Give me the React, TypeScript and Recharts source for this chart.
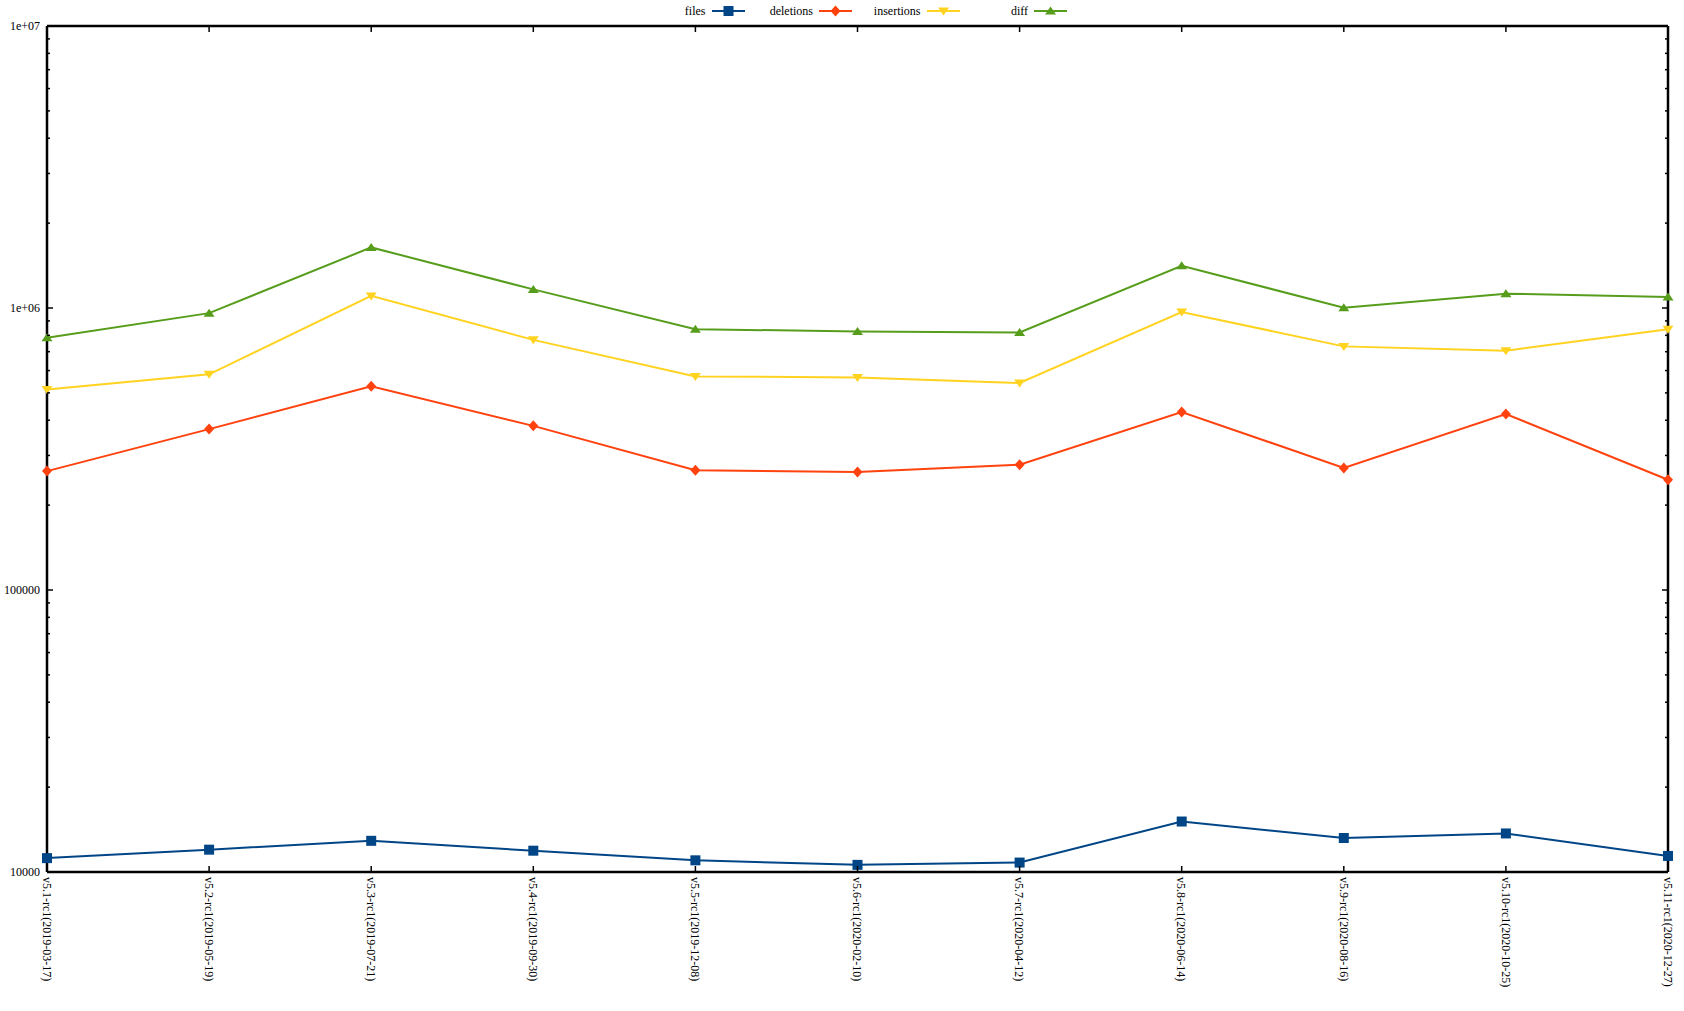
import React from 'react';
import { LineChart, Line, XAxis, YAxis } from 'recharts';

const labels = [
    'v5.1-rc1(2019-03-17)', 'v5.2-rc1(2019-05-19)', 'v5.3-rc1(2019-07-21)', 'v5.4-rc1(2019-09-30)',
    'v5.5-rc1(2019-12-08)', 'v5.6-rc1(2020-02-10)', 'v5.7-rc1(2020-04-12)', 'v5.8-rc1(2020-06-14)',
    'v5.9-rc1(2020-08-16)', 'v5.10-rc1(2020-10-25)', 'v5.11-rc1(2020-12-27)',
];
const files = [11200, 12000, 12900, 11900, 11000, 10600, 10800, 15100, 13200, 13700, 11400];
const deletions = [264000, 372000, 528000, 382000, 266000, 262000, 278000, 428000, 271000, 421000, 246000];
const insertions = [514000, 582000, 1104000, 771000, 572000, 567000, 542000, 968000, 731000, 706000, 841000];
const diff = [784000, 959000, 1640000, 1164000, 841000, 826000, 819000, 1412000, 1002000, 1124000, 1094000];

const majorTicks = [10000, 100000, 1000000, 10000000];
const yTicks: number[] = [];
for (let d = 10000; d < 10000000; d *= 10) {
    for (let m = 1; m < 10; m++) yTicks.push(d * m);
}
yTicks.push(10000000);

const data = labels.map((label, i) => ({
    label,
    files: files[i],
    deletions: deletions[i],
    insertions: insertions[i],
    diff: diff[i],
}));

const FONT = '"Liberation Serif", "Times New Roman", serif';
const COLORS = { files: '#004586', deletions: '#ff420e', insertions: '#ffd320', diff: '#579d1c' };

const yLabel = (v: number) => (v >= 1000000 ? `1e+0${Math.round(Math.log10(v))}` : String(v));

const Marker = ({ cx, cy, kind, color }: { cx: number; cy: number; kind: string; color: string }) => {
    if (kind === 'square') return <rect x={cx - 5} y={cy - 5} width={10} height={10} fill={color} />;
    if (kind === 'diamond')
        return <polygon points={`${cx},${cy - 5.5} ${cx + 5},${cy} ${cx},${cy + 5.5} ${cx - 5},${cy}`} fill={color} />;
    if (kind === 'down')
        return <polygon points={`${cx - 5.5},${cy - 3.5} ${cx + 5.5},${cy - 3.5} ${cx},${cy + 4.5}`} fill={color} />;
    return <polygon points={`${cx - 5.5},${cy + 3.5} ${cx + 5.5},${cy + 3.5} ${cx},${cy - 4.5}`} fill={color} />;
};

const makeDot = (kind: string, color: string) => (props: any) =>
    <Marker key={`${kind}-${props.index}`} cx={props.cx} cy={props.cy} kind={kind} color={color} />;

const LeftTick = ({ x, y, payload }: any) => {
    const major = majorTicks.includes(payload.value);
    return (
        <g>
            <line x1={x} y1={y} x2={x + (major ? 6 : 3)} y2={y} stroke="#000" strokeWidth={1.5} />
            {major && (
                <text x={x - 7} y={y} textAnchor="end" dominantBaseline="central" fontSize={12} fontFamily={FONT} fill="#000">
                    {yLabel(payload.value)}
                </text>
            )}
        </g>
    );
};

const RightTick = ({ x, y, payload }: any) => {
    const major = majorTicks.includes(payload.value);
    return <line x1={x} y1={y} x2={x - (major ? 6 : 3)} y2={y} stroke="#000" strokeWidth={1.5} />;
};

const BottomTick = ({ x, y, payload }: any) => (
    <g>
        <line x1={x} y1={y} x2={x} y2={y - 6} stroke="#000" strokeWidth={1.5} />
        <text
            transform={`translate(${x}, ${y + 5}) rotate(90)`}
            dy="0.35em"
            textAnchor="start"
            fontSize={12}
            fontFamily={FONT}
            fill="#000"
        >
            {payload.value}
        </text>
    </g>
);

const TopTick = ({ x, y }: any) => <line x1={x} y1={y} x2={x} y2={y + 6} stroke="#000" strokeWidth={1.5} />;

const legendItems = [
    { name: 'files', kind: 'square', color: COLORS.files },
    { name: 'deletions', kind: 'diamond', color: COLORS.deletions },
    { name: 'insertions', kind: 'down', color: COLORS.insertions },
    { name: 'diff', kind: 'up', color: COLORS.diff },
];

const KeyBox = () => (
    <div
        style={{
            position: 'absolute', left: 637, top: 0, display: 'flex', fontFamily: FONT,
            fontSize: 12, height: 22, alignItems: 'center', zIndex: 1,
        }}
    >
        {legendItems.map((it) => (
            <div key={it.name} style={{ width: 107.5, display: 'flex', justifyContent: 'flex-end', alignItems: 'center' }}>
                <span>{it.name}</span>
                <svg width={33} height={14} style={{ marginLeft: 6 }}>
                    <line x1={0} y1={7} x2={33} y2={7} stroke={it.color} strokeWidth={2} />
                    <Marker cx={16.5} cy={7} kind={it.kind} color={it.color} />
                </svg>
            </div>
        ))}
    </div>
);

export default function App() {
    return (
        <div style={{ position: 'absolute', left: 0, top: 0, width: 1684, height: 1011, background: '#fff' }}>
            <KeyBox />
            <LineChart width={1684} height={1011} data={data} margin={{ top: 0, right: 0, left: 0, bottom: 0 }}>
                <XAxis
                    dataKey="label"
                    xAxisId="bottom"
                    height={139}
                    padding={{ left: 0, right: 0 }}
                    interval={0}
                    tickSize={0}
                    tickMargin={0}
                    tickLine={false}
                    axisLine={{ stroke: '#000', strokeWidth: 2.5 }}
                    tick={<BottomTick />}
                />
                <XAxis
                    dataKey="label"
                    xAxisId="top"
                    orientation="top"
                    height={26}
                    padding={{ left: 0, right: 0 }}
                    interval={0}
                    tickSize={0}
                    tickMargin={0}
                    tickLine={false}
                    axisLine={{ stroke: '#000', strokeWidth: 2.5 }}
                    tick={<TopTick />}
                />
                <YAxis
                    yAxisId="left"
                    width={47}
                    scale="log"
                    domain={[10000, 10000000]}
                    ticks={yTicks}
                    interval={0}
                    allowDataOverflow
                    tickSize={0}
                    tickMargin={0}
                    tickLine={false}
                    axisLine={{ stroke: '#000', strokeWidth: 2.5 }}
                    tick={<LeftTick />}
                />
                <YAxis
                    yAxisId="right"
                    orientation="right"
                    width={16}
                    scale="log"
                    domain={[10000, 10000000]}
                    ticks={yTicks}
                    interval={0}
                    allowDataOverflow
                    tickSize={0}
                    tickMargin={0}
                    tickLine={false}
                    axisLine={{ stroke: '#000', strokeWidth: 2.5 }}
                    tick={<RightTick />}
                />
                <Line xAxisId="bottom" yAxisId="left" dataKey="files" stroke={COLORS.files} strokeWidth={2} dot={makeDot('square', COLORS.files)} isAnimationActive={false} />
                <Line xAxisId="bottom" yAxisId="left" dataKey="deletions" stroke={COLORS.deletions} strokeWidth={2} dot={makeDot('diamond', COLORS.deletions)} isAnimationActive={false} />
                <Line xAxisId="bottom" yAxisId="left" dataKey="insertions" stroke={COLORS.insertions} strokeWidth={2} dot={makeDot('down', COLORS.insertions)} isAnimationActive={false} />
                <Line xAxisId="bottom" yAxisId="left" dataKey="diff" stroke={COLORS.diff} strokeWidth={2} dot={makeDot('up', COLORS.diff)} isAnimationActive={false} />
            </LineChart>
        </div>
    );
}
